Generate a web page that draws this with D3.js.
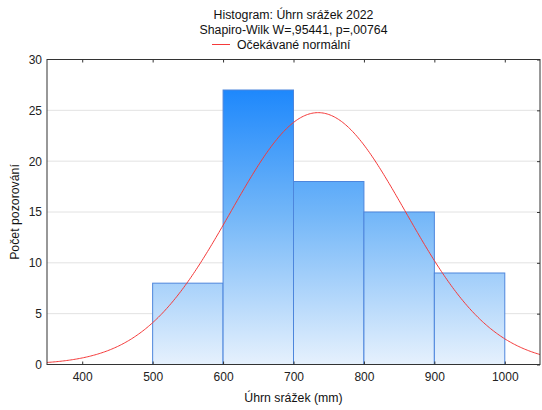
<!DOCTYPE html>
<html><head><meta charset="utf-8">
<script src="https://cdn.jsdelivr.net/npm/d3@7"></script>
<style>body{margin:0;background:#fff}svg{display:block;font-family:"Liberation Sans",Arial,sans-serif}</style>
</head><body><svg id="c" width="542" height="410"></svg>
<script>
const binStarts = [500, 600, 700, 800, 900];
const binWidth = 100;
const counts = [8, 27, 18, 15, 9];
const xTicks = [400, 500, 600, 700, 800, 900, 1000];
const yTicks = [0, 5, 10, 15, 20, 25, 30];
const normalMean = 735;
const normalSd = 124;
const titleLines = ["Histogram: Úhrn srážek 2022", "Shapiro-Wilk W=,95441, p=,00764"];
const legendLabel = "Očekávané normální";
const xLabel = "Úhrn srážek (mm)";
const yLabel = "Počet pozorování";

const svg = d3.select("#c");
const L = 47, R = 540, T = 59.5, B = 364.5;
const FS = 12.3;
const x = d3.scaleLinear().domain([350, 1050]).range([L, R]);
const y = d3.scaleLinear().domain([0, 30]).range([B, T]);

const defs = svg.append("defs");
const g = defs.append("linearGradient").attr("id", "bg").attr("gradientUnits", "userSpaceOnUse")
  .attr("x1", 0).attr("x2", 0).attr("y1", y(27)).attr("y2", y(0));
g.append("stop").attr("offset", 0).attr("stop-color", "#1e88fc");
g.append("stop").attr("offset", 0.45).attr("stop-color", "#72b6f8");
g.append("stop").attr("offset", 1).attr("stop-color", "#e6f1fd");

// gridlines
svg.append("g").selectAll("line").data(yTicks.filter(d => d > 0 && d < 30)).join("line")
  .attr("x1", L).attr("x2", R).attr("y1", d => y(d)).attr("y2", d => y(d))
  .attr("stroke", "#e2e2e2").attr("stroke-width", 1);

// bars
svg.append("g").selectAll("rect").data(counts).join("rect")
  .attr("x", (d, i) => x(binStarts[i]))
  .attr("width", (d, i) => x(binStarts[i] + binWidth) - x(binStarts[i]))
  .attr("y", d => y(d)).attr("height", d => y(0) - y(d))
  .attr("fill", "url(#bg)").attr("stroke", "#4d86dc").attr("stroke-width", 1);

// normal curve
const n = d3.sum(counts);
const xs = d3.range(350, 1050.1, 2);
const pts = xs.map(v => [v, n * binWidth / (normalSd * Math.sqrt(2 * Math.PI)) * Math.exp(-0.5 * ((v - normalMean) / normalSd) ** 2)]);
svg.append("path").datum(pts)
  .attr("d", d3.line().x(d => x(d[0])).y(d => y(d[1])))
  .attr("fill", "none").attr("stroke", "#f53a3a").attr("stroke-width", 1);

// frame
svg.append("rect").attr("x", L).attr("y", T).attr("width", R - L).attr("height", B - T)
  .attr("fill", "none").attr("stroke", "#333").attr("stroke-width", 1);

// axes
const xa = svg.append("g").attr("transform", `translate(0,${B})`)
  .call(d3.axisBottom(x).tickValues(xTicks).tickSize(-3).tickPadding(8).tickFormat(d3.format("d")));
const xt = svg.append("g").attr("transform", `translate(0,${T})`)
  .call(d3.axisTop(x).tickValues(xTicks).tickSize(-3).tickFormat(""));
const ya = svg.append("g").attr("transform", `translate(${L},0)`)
  .call(d3.axisLeft(y).tickValues(yTicks).tickSize(0).tickPadding(5));
const yr = svg.append("g").attr("transform", `translate(${R},0)`)
  .call(d3.axisRight(y).tickValues(yTicks).tickSize(-3).tickFormat(""));
[xa, xt, ya, yr].forEach(a => {
  a.select(".domain").remove();
  a.selectAll("line").attr("stroke", "#333");
  a.selectAll("text").attr("font-size", 12).attr("fill", "#222").attr("font-family", "Liberation Sans, Arial, sans-serif");
});

// titles
const cx = (L + R) / 2;
svg.selectAll("text.title").data(titleLines).join("text").attr("class", "title")
  .attr("x", cx).attr("y", (d, i) => 18.5 + i * 15.5).attr("text-anchor", "middle")
  .attr("font-size", FS).attr("fill", "#111").text(d => d);

// legend
svg.append("text").attr("x", 237).attr("y", 49).attr("font-size", FS).attr("fill", "#111").text(legendLabel);
svg.append("line").attr("x1", 212).attr("x2", 230).attr("y1", 44.5).attr("y2", 44.5).attr("stroke", "#f53a3a").attr("stroke-width", 1);

svg.append("text").attr("x", cx).attr("y", 402).attr("text-anchor", "middle").attr("font-size", FS).attr("fill", "#111").text(xLabel);
svg.append("text").attr("transform", `translate(19,${(T + B) / 2}) rotate(-90)`).attr("text-anchor", "middle")
  .attr("font-size", FS).attr("fill", "#111").text(yLabel);
</script></body></html>
